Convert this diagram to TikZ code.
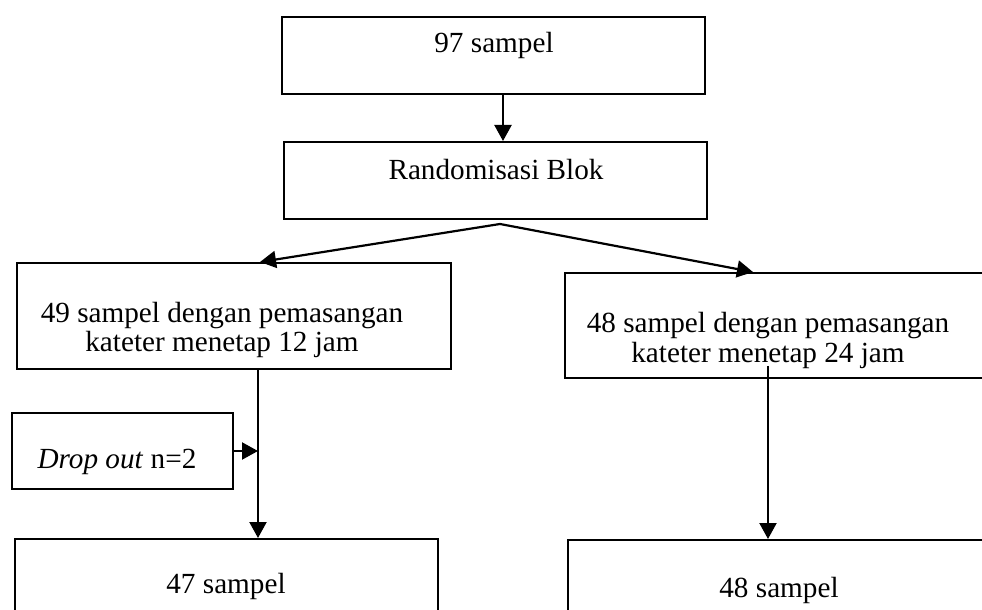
\documentclass[tikz,border=0pt]{standalone}
\usepackage{fontspec}
\setmainfont{Liberation Serif}
\usetikzlibrary{arrows.meta}
\tikzset{kotak/.style={draw, line width=1pt, inner sep=0pt},
         teks/.style={font=\fontsize{14.6}{15}\selectfont, anchor=base, align=center, inner sep=0pt},
         panah/.style={line width=1.1pt, -{Triangle[length=8pt,width=8.5pt]}}}

\begin{document}
\begin{tikzpicture}[x=0.5pt, y=-0.5pt]
	\useasboundingbox (0,0) rectangle (982,610);
	\clip (0,0) rectangle (982,610);

	% kotak-kotak
	\node[kotak, minimum width=211.5pt, minimum height=38.5pt] (b97) at (493.5,55.5) {};
	\node[kotak, minimum width=211.5pt, minimum height=38.5pt] (acak) at (495.5,180.5) {};
	\node[kotak, minimum width=217pt, minimum height=53pt] (kiri) at (234,316) {};
	\node[kotak, minimum width=217.5pt, minimum height=52.5pt] (kanan) at (782.5,325.5) {};
	\node[kotak, minimum width=110.5pt, minimum height=38pt] (drop) at (122.5,451) {};
	\node[kotak, minimum width=211.5pt, minimum height=41pt] (b47) at (226.5,580) {};
	\node[kotak, minimum width=216pt, minimum height=41pt] (b48) at (784,581) {};

	% teks
	\node[teks] (t97) at (494,53) {97 sampel};
	\node[teks] (tacak) at (496,180) {Randomisasi Blok};
	\node[teks] (tkiri) at (222,352) {49 sampel dengan pemasangan\\kateter menetap 12 jam};
	\node[teks] (tkanan) at (768,363) {48 sampel dengan pemasangan\\kateter menetap 24 jam};
	\node[teks] (tdrop) at (117,468) {\textit{Drop out} n=2};
	\node[teks] (t47) at (226,594) {47 sampel};
	\node[teks] (t48) at (779,597) {48 sampel};

	% panah
	\draw[panah] ([xshift=4.75pt]b97.south) -- ([xshift=4.75pt]b97.south |- acak.north);
	\coordinate (cabang) at ([xshift=2.25pt, yshift=-2pt]acak.south);
	\draw[panah] (cabang) -- ([xshift=13pt]kiri.north);
	\draw[panah] (cabang) -- ([xshift=-14.75pt]kanan.north);
	\coordinate (turun) at ([xshift=12pt]kiri.south);
	\draw[panah] (turun) -- (turun |- b47.north);
	\draw[panah] (drop.east) -- (drop.east -| turun);
	\coordinate (turun2) at ([xshift=-7.25pt, yshift=6.5pt]kanan.south);
	\draw[panah] (turun2) -- (turun2 |- b48.north);
\end{tikzpicture}
\end{document}
